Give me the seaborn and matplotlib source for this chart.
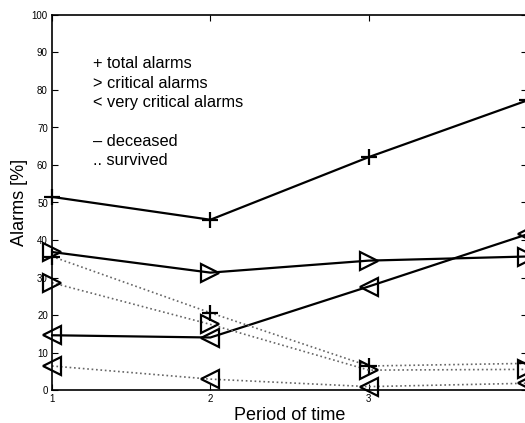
import matplotlib
matplotlib.use("Agg")
import matplotlib.pyplot as plt
import seaborn as sns
import pandas as pd

sns.set_theme(style="ticks")
plt.rcParams['font.family'] = ['Liberation Sans', 'DejaVu Sans']
plt.rcParams['text.color'] = 'black'
plt.rcParams['axes.labelcolor'] = 'black'

periods = [1, 2, 3, 4]
period_labels = ['1', '2', '3', '']
# deceased (solid)
total_deceased = [51.5, 45.4, 62.1, 77.2]
critical_deceased = [36.8, 31.3, 34.5, 35.6]
very_critical_deceased = [14.6, 14.0, 27.6, 41.5]
# survived (dotted)
total_survived = [35.6, 20.6, 6.4, 7.1]
critical_survived = [28.6, 17.5, 5.3, 5.5]
very_critical_survived = [6.4, 2.9, 0.9, 1.8]

series = [
    (total_deceased, '+', '-', 'black', 1.6, 11),
    (critical_deceased, '>', '-', 'black', 1.6, 13.5),
    (very_critical_deceased, '<', '-', 'black', 1.6, 13.5),
    (total_survived, '+', ':', '#666666', 1.2, 11),
    (critical_survived, '>', ':', '#666666', 1.2, 13.5),
    (very_critical_survived, '<', ':', '#666666', 1.2, 13.5),
]

fig = plt.figure(figsize=(5.25, 4.23), dpi=100)
ax = fig.add_axes([52 / 525, 33 / 423, 475 / 525, 375 / 423])

for vals, mk, ls, col, lw, ms in series:
    df = pd.DataFrame({'period': periods, 'alarms': vals})
    sns.lineplot(data=df, x='period', y='alarms', ax=ax, color=col,
                 linestyle=ls, linewidth=lw, marker=mk, markersize=ms,
                 markerfacecolor='none', markeredgecolor='black',
                 markeredgewidth=1.6, clip_on=False)

ax.set_xlim(1, 4)
ax.set_ylim(0, 100)
ax.set_xticks(periods)
ax.set_xticklabels(period_labels)
ax.set_yticks(range(0, 101, 10))
ax.tick_params(direction='in', top=True, right=True, labelsize=7,
               length=4, width=0.8, colors='black', pad=3)
for s in ax.spines.values():
    s.set_linewidth(1.2)
    s.set_color('black')
ax.set_xlabel('Period of time', fontsize=13, labelpad=2)
ax.set_ylabel('Alarms [%]', fontsize=13, labelpad=3)

legend_lines = ['+ total alarms', '> critical alarms', '< very critical alarms',
                '', '\u2013 deceased', '.. survived']
for i, t in enumerate(legend_lines):
    ax.text(1.26, 87.0 - i * 5.15, t, fontsize=11.8, va='center', ha='left')

fig.savefig('out.png', dpi=100)
